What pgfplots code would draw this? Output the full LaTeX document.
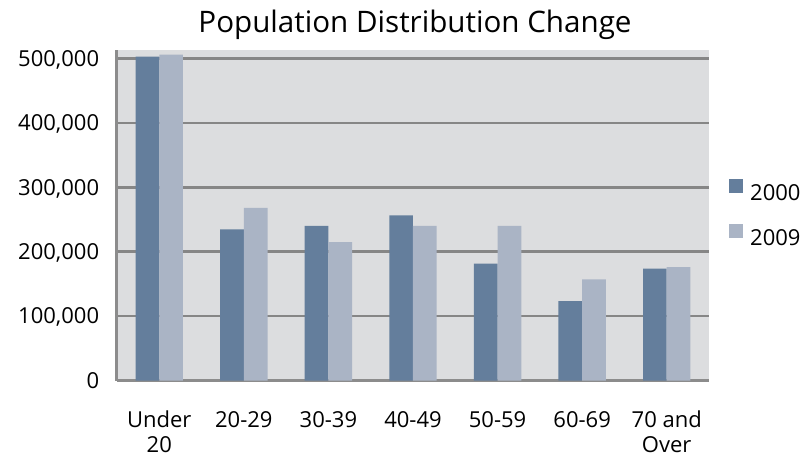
\documentclass[border=0pt]{standalone}
\usepackage{fontspec}
\setmainfont{Open Sans}
\usepackage{pgfplots}
\pgfplotsset{compat=1.18}
\definecolor{cA}{RGB}{100,126,156}
\definecolor{cB}{RGB}{170,180,197}
\definecolor{bgc}{RGB}{220,221,223}
\definecolor{gridc}{RGB}{134,134,134}
\definecolor{axc}{RGB}{140,140,140}
\pgfplotsset{sqlegend/.style={legend image code/.code={\fill[##1] (0pt,0pt) rectangle (14pt,14pt);}}}
\begin{document}
\begin{tikzpicture}
\path[use as bounding box] (-117pt,-77.5pt) rectangle (691pt,380.5pt);
\begin{axis}[
  at={(0pt,0pt)}, anchor=south west,
  scale only axis, width=592pt, height=330.5pt,
  ybar=0pt, bar width=23.7pt,
  xmin=-0.5, xmax=6.5, ymin=0, ymax=513200,
  enlarge x limits=false,
  xtick={0,1,2,3,4,5,6},
  xticklabels={{\strut Under\\20},{\strut 20-29},{\strut 30-39},{\strut 40-49},{\strut 50-59},{\strut 60-69},{\strut 70 and\\Over}},
  ytick={0,100000,200000,300000,400000,500000},
  yticklabels={0,{100,000},{200,000},{300,000},{400,000},{500,000}},
  scaled y ticks=false,
  major tick length=0pt,
  axis lines*=left,
  axis line style={-, draw=axc, line width=3pt},
  axis background/.style={fill=bgc},
  ymajorgrids, major grid style={draw=gridc, line width=2.5pt},
  xticklabel style={align=center, anchor=north, inner sep=0pt, yshift=-30pt, font=\fontsize{22}{24.7}\selectfont},
  yticklabel style={anchor=east, inner sep=0pt, xshift=-17.7pt, text height=15.7pt, text depth=0pt, font=\fontsize{22}{26}\selectfont},
  title={Population Distribution Change},
  title style={at={(0.5034,1.0363)}, anchor=base, inner sep=0pt, font=\fontsize{29.6}{34}\selectfont},
  legend style={at={(1.0338,0.6105)}, anchor=north west, draw=none, fill=none, inner sep=0pt, row sep=23pt, column sep=7pt, font=\fontsize{22}{26}\selectfont, nodes={inner sep=0pt, text height=16pt, text depth=0pt}},
  legend cell align=left,
]
\addplot[fill=cA, draw=none, sqlegend] coordinates {(0,502800) (1,234800) (2,240000) (3,256500) (4,181400) (5,123400) (6,173600)};
\addplot[fill=cB, draw=none, sqlegend] coordinates {(0,505900) (1,267900) (2,215000) (3,240000) (4,240000) (5,157100) (6,176200)};
\legend{2000,2009}
\end{axis}
\end{tikzpicture}
\end{document}
